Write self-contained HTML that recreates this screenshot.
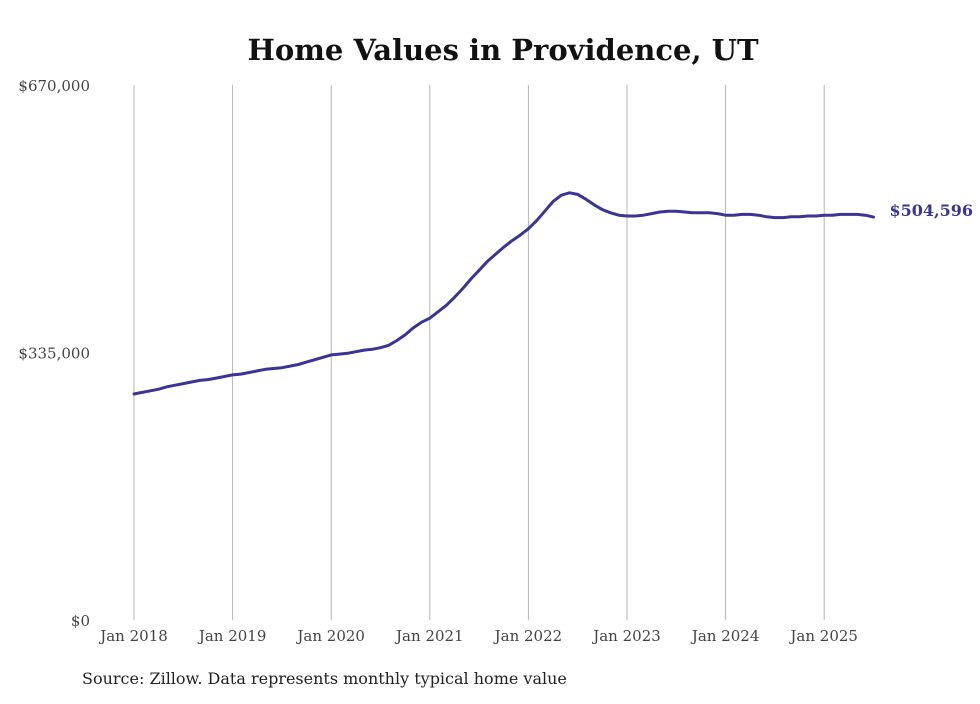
<!DOCTYPE html>
<html><head><meta charset="utf-8"><style>
body{margin:0;background:#fff;}
svg text{font-family:"DejaVu Serif","Liberation Serif",serif;}
</style></head><body>
<svg id="chart" width="980" height="699" xmlns="http://www.w3.org/2000/svg">
<rect width="980" height="699" fill="#fff"/>
<text x="503" y="60" text-anchor="middle" font-size="29" font-weight="bold" fill="#111">Home Values in Providence, UT</text>
<g id="grid"></g><g id="yaxis"></g><g id="xaxis"></g><g id="series"></g>
<text x="82" y="684" font-size="16" fill="#222">Source: Zillow. Data represents monthly typical home value</text>
</svg>
<script>
const yTicks=[0,335000,670000];
const yTickLabels=["$0","$335,000","$670,000"];
const xYears=[2018,2019,2020,2021,2022,2023,2024,2025];
const xTickLabels=["Jan 2018","Jan 2019","Jan 2020","Jan 2021","Jan 2022","Jan 2023","Jan 2024","Jan 2025"];
const startYear=2018;
const values=[283,285,287,289,292,294,296,298,300,301,303,305,
307,308,310,312,314,315,316,318,320,323,326,329,
332,333,334,336,338,339,341,344,350,357,366,373,
378,386,394,404,415,427,438,449,458,467,475,482,
490,500,512,524,532,535,533,527,520,514,510,507,
506,506,507,509,511,512,512,511,510,510,510,509,
507,507,508,508,507,505,504,504,505,505,506,506,
507,507,508,508,508,507,504.596].map(v=>v*1000);
const endLabel="$504,596";
const NS="http://www.w3.org/2000/svg";
const x=t=>134+(t-startYear)*98.6;
const y=v=>620-v/670000*535;
function mk(tag,attrs,parent,txt){const e=document.createElementNS(NS,tag);for(const k in attrs)e.setAttribute(k,attrs[k]);if(txt!==undefined)e.textContent=txt;document.getElementById(parent).appendChild(e);return e;}
xYears.forEach((yr,i)=>{
 const l=mk('line',{x1:x(yr),x2:x(yr),y1:85,y2:620,stroke:'#b5b5b5','stroke-width':1},'grid');
 
 
 const t=mk('text',{x:x(yr),y:641,'text-anchor':'middle','font-size':15,fill:'#444'},'xaxis',xTickLabels[i]);
 
 
});
yTicks.forEach((v,i)=>{
 const t=mk('text',{x:90,y:y(v)+6,'text-anchor':'end','font-size':15,fill:'#444'},'yaxis',yTickLabels[i]);
 
 
});
const pts=values.map((v,i)=>[x(startYear+i/12),y(v)]);
const p=mk('path',{d:'M'+pts.map(q=>q[0].toFixed(1)+','+q[1].toFixed(1)).join('L'),fill:'none',stroke:'#3a3494','stroke-width':3,'stroke-linejoin':'round','stroke-linecap':'round'},'series');


const last=pts[pts.length-1];
const el=mk('text',{x:last[0]+16,y:last[1]-1,'font-size':16,'font-weight':'bold',fill:'#3a3494'},'series',endLabel);


</script>
</body></html>
